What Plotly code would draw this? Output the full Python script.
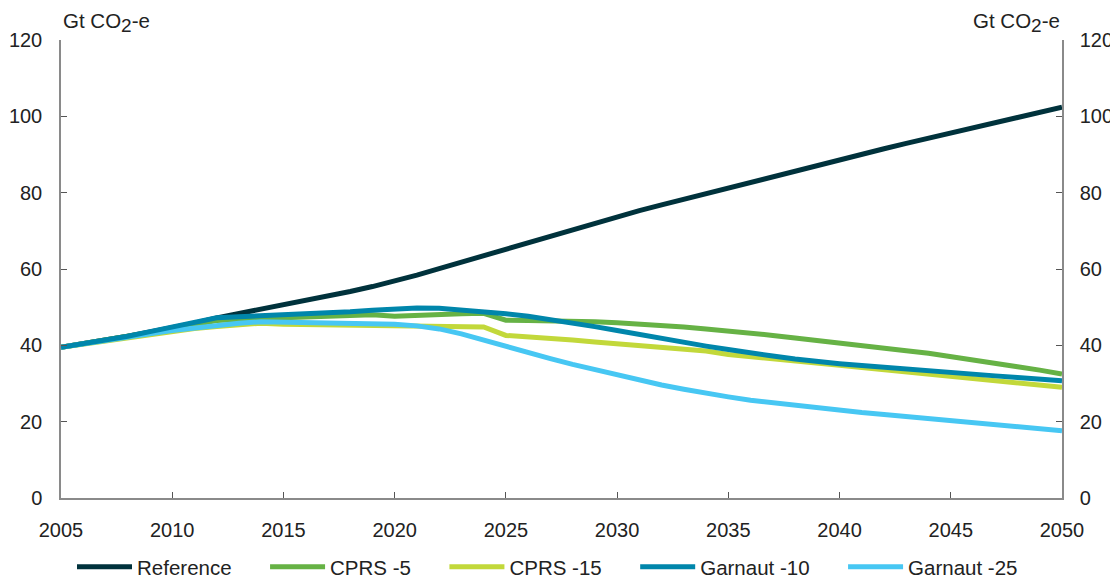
import plotly.graph_objects as go

years = list(range(2005, 2051))

reference = [39.5, 40.4, 41.4, 42.4, 43.5, 44.6, 45.8, 47.2, 48.3, 49.4,
             50.5, 51.7, 52.9, 54.1, 55.4, 56.8, 58.4, 60.1, 61.8, 63.6,
             65.3, 67.0, 68.8, 70.5, 72.2, 73.8, 75.3, 76.8, 78.3, 79.8,
             81.3, 82.8, 84.3, 85.8, 87.3, 88.7, 90.1, 91.5, 92.9, 94.3,
             95.6, 97.0, 98.4, 99.7, 101.1, 102.4]

cprs_5 = [39.5, 40.4, 41.4, 42.4, 43.4, 44.4, 45.5, 46.5, 46.8, 47.0,
          47.2, 47.4, 47.6, 47.8, 48.0, 47.6, 47.9, 48.1, 48.3, 48.4,
          46.6, 46.5, 46.5, 46.4, 46.2, 45.9, 45.6, 45.2, 44.8, 44.3,
          43.8, 43.2, 42.6, 41.9, 41.3, 40.7, 40.0, 39.3, 38.6, 37.9,
          37.1, 36.3, 35.4, 34.4, 33.5, 32.5]

cprs_15 = [39.5, 40.3, 41.2, 42.1, 43.0, 43.8, 44.4, 44.9, 45.4, 45.8,
           45.5, 45.4, 45.3, 45.2, 45.1, 45.0, 44.9, 44.9, 44.8, 44.8,
           42.6, 42.3, 42.0, 41.4, 40.9, 40.4, 40.0, 39.5, 39.0, 38.5,
           37.6, 37.1, 36.5, 35.9, 35.3, 34.8, 34.2, 33.6, 33.0, 32.5,
           31.9, 31.4, 30.8, 30.2, 29.6, 29.0]

garnaut_10 = [39.5, 40.4, 41.4, 42.4, 43.6, 44.7, 45.9, 47.2, 47.5, 47.7,
              47.9, 48.2, 48.5, 48.8, 49.2, 49.6, 49.8, 49.7, 49.3, 48.8,
              48.3, 47.6, 46.8, 45.9, 44.9, 43.9, 42.8, 41.7, 40.7, 39.8,
              38.9, 37.9, 37.2, 36.4, 35.7, 35.2, 34.7, 34.2, 33.8, 33.3,
              32.9, 32.5, 32.0, 31.6, 31.1, 30.7]

garnaut_25 = [39.5, 40.3, 41.2, 42.1, 43.0, 43.9, 44.6, 45.3, 45.8, 46.2,
              46.1, 46.0, 45.9, 45.8, 45.7, 45.5, 45.1, 44.3, 43.0, 41.3,
              39.6, 38.0, 36.5, 35.0, 33.6, 32.2, 30.9, 29.6, 28.5, 27.4,
              26.5, 25.6, 24.9, 24.2, 23.5, 22.9, 22.4, 21.9, 21.4, 20.9,
              20.4, 19.9, 19.2, 18.7, 18.2, 17.6]

x_ticks = list(range(2005, 2051, 5))
y_ticks = list(range(0, 121, 20))
unit_label = "Gt CO<sub><span style='font-size:19px'>2</span></sub>-e"

# (name, values, colour, legend rank) in drawing order
series = [
    ("Reference", reference, "#00323C", 1),
    ("CPRS -5", cprs_5, "#66B245", 2),
    ("CPRS -15", cprs_15, "#C2D83A", 3),
    ("Garnaut -25", garnaut_25, "#47C7F3", 5),
    ("Garnaut -10", garnaut_10, "#0086AB", 4),
]

NBSP = "\u00a0"
fig = go.Figure()
for name, vals, col, rank in series:
    fig.add_trace(go.Scatter(
        x=years, y=vals, mode="lines", name=name + NBSP * 5,
        line=dict(color=col, width=5), legendrank=rank,
        hoverinfo="skip"))

# invisible trace to carry the right-hand axis
fig.add_trace(go.Scatter(x=years, y=reference, yaxis="y2", mode="lines",
                         line=dict(width=0), showlegend=False,
                         hoverinfo="skip", opacity=0))

font = dict(family="Liberation Sans, Arial, sans-serif", size=20.5, color="#222222")
tick_font = dict(family="Liberation Sans, Arial, sans-serif", size=20, color="#222222")
axis_common = dict(showgrid=False, zeroline=False, showline=True,
                   linecolor="#8a8a8a", linewidth=1.5, ticks="inside",
                   ticklen=6, tickcolor="#555555", tickwidth=1.2,
                   tickfont=tick_font, automargin=False)

fig.update_layout(
    width=1110, height=571,
    margin=dict(l=53, r=56, t=32, b=81),
    paper_bgcolor="white", plot_bgcolor="white",
    font=font,
    xaxis=dict(range=[2005, 2050], tickvals=x_ticks, ticklabelstandoff=13,
               **axis_common),
    yaxis=dict(range=[0, 120], tickvals=y_ticks, ticklabelstandoff=13,
               **axis_common),
    yaxis2=dict(range=[0, 120], tickvals=y_ticks, overlaying="y", side="right",
                ticklabelstandoff=12, **axis_common),
    legend=dict(orientation="h", x=0.5, xanchor="center",
                yref="container", y=0.021, yanchor="middle",
                font=font, itemwidth=55, traceorder="normal"),
    showlegend=True,
    annotations=[
        dict(text=unit_label, xref="paper", yref="paper", x=0, y=1,
             xanchor="left", yanchor="bottom", yshift=2, showarrow=False,
             font=font),
        dict(text=unit_label, xref="paper", yref="paper", x=1, y=1,
             xanchor="right", yanchor="bottom", yshift=2, showarrow=False,
             font=font),
    ],
)

fig.write_html("out.html")
